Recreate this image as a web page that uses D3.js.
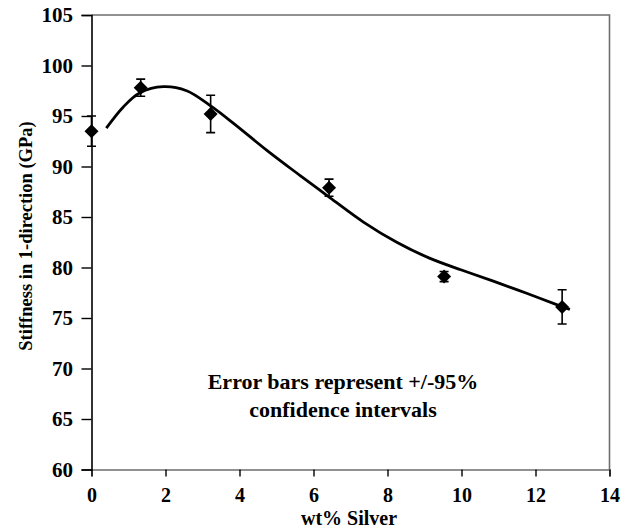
<!DOCTYPE html>
<html>
<head>
<meta charset="utf-8">
<script src="https://cdn.jsdelivr.net/npm/d3@7"></script>
<style>
  html, body { margin: 0; padding: 0; background: #fff; }
  svg { display: block; }
  svg text { font-family: "Liberation Serif", "Times New Roman", serif; font-weight: bold; fill: #000; }
</style>
</head>
<body>
<svg id="chart" width="632" height="529"></svg>
<script>
// Measured stiffness vs. silver content
const silverWt = [0, 1.33, 3.22, 6.42, 9.53, 12.72];
const stiffness = [93.5, 97.8, 95.2, 87.9, 79.1, 76.1];
const ci95 = [1.5, 0.85, 1.85, 0.85, 0.5, 1.7];

// Smooth trend line through the data
const trendX = [0.4, 0.86, 1.31, 1.94, 2.57, 3.22, 3.83, 4.74, 5.64, 6.45, 7.35, 8.25, 9.15, 10.0, 10.86, 11.76, 12.66, 12.93];
const trendY = [93.8, 95.9, 97.3, 97.9, 97.5, 96.0, 94.3, 91.6, 89.1, 86.9, 84.5, 82.5, 80.9, 79.75, 78.65, 77.45, 76.2, 75.85];

const xTicks = [0, 2, 4, 6, 8, 10, 12, 14];
const yTicks = [60, 65, 70, 75, 80, 85, 90, 95, 100, 105];

const svg = d3.select("#chart");
const W = 632, H = 529;
const m = { left: 91.5, top: 15, right: 22.5, bottom: 59.5 };
const x = d3.scaleLinear().domain([0, 14]).range([m.left, W - m.right]);
const y = d3.scaleLinear().domain([60, 105]).range([H - m.bottom, m.top]);

// frame (top and right edges)
svg.append("path")
  .attr("d", `M${x(0)},${y(105)}H${x(14)}V${y(60)}`)
  .attr("fill", "none").attr("stroke", "#6e6e6e").attr("stroke-width", 1.6);

// axes
const xAxis = svg.append("g")
  .attr("transform", `translate(0,${y(60)})`)
  .call(d3.axisBottom(x).tickValues(xTicks).tickSize(7).tickPadding(11.3).tickFormat(d3.format("d")));
xAxis.attr("font-family", null);
xAxis.select(".domain").attr("stroke", "#6e6e6e").attr("stroke-width", 1.6);
xAxis.selectAll(".tick line").attr("stroke", "#000").attr("stroke-width", 1.4);
xAxis.selectAll("text").attr("font-size", 20);

const yAxis = svg.append("g")
  .attr("transform", `translate(${x(0)},0)`)
  .call(d3.axisLeft(y).tickValues(yTicks).tickSize(10).tickPadding(8.5).tickFormat(d3.format("d")));
yAxis.attr("font-family", null);
yAxis.select(".domain").attr("stroke", "#000").attr("stroke-width", 1.6);
yAxis.selectAll(".tick line").attr("stroke", "#000").attr("stroke-width", 1.4);
yAxis.selectAll("text").attr("font-size", 21);

// axis titles
svg.append("text")
  .attr("x", 349).attr("y", 524.5)
  .attr("text-anchor", "middle").attr("font-size", 20)
  .text("wt% Silver");
svg.append("text")
  .attr("transform", "translate(32,236) rotate(-90)")
  .attr("text-anchor", "middle").attr("font-size", 18.5)
  .text("Stiffness in 1-direction (GPa)");

// note
svg.append("text")
  .attr("x", 343).attr("y", 389)
  .attr("text-anchor", "middle").attr("font-size", 22)
  .text("Error bars represent +/-95%");
svg.append("text")
  .attr("x", 343).attr("y", 416.5)
  .attr("text-anchor", "middle").attr("font-size", 22)
  .text("confidence intervals");

// trend line
const trend = trendX.map((v, i) => [v, trendY[i]]);
svg.append("path")
  .datum(trend)
  .attr("d", d3.line().x(d => x(d[0])).y(d => y(d[1])).curve(d3.curveCatmullRom.alpha(0.5)))
  .attr("fill", "none").attr("stroke", "#000").attr("stroke-width", 2.8)
  .attr("stroke-linecap", "butt");

// error bars
const pts = silverWt.map((v, i) => ({ x: v, y: stiffness[i], e: ci95[i] }));
const eb = svg.append("g").attr("stroke", "#000").attr("stroke-width", 1.6).attr("fill", "none");
pts.forEach(p => {
  const cx = x(p.x), top = y(p.y + p.e), bot = y(p.y - p.e);
  eb.append("path").attr("d", `M${cx},${top}V${bot}M${cx - 4.5},${top}H${cx + 4.5}M${cx - 4.5},${bot}H${cx + 4.5}`);
});

// diamond markers
svg.append("g").selectAll("path").data(pts).join("path")
  .attr("transform", d => `translate(${x(d.x)},${y(d.y)})`)
  .attr("d", "M0,-7L7,0L0,7L-7,0Z")
  .attr("fill", "#000");
</script>
</body>
</html>
